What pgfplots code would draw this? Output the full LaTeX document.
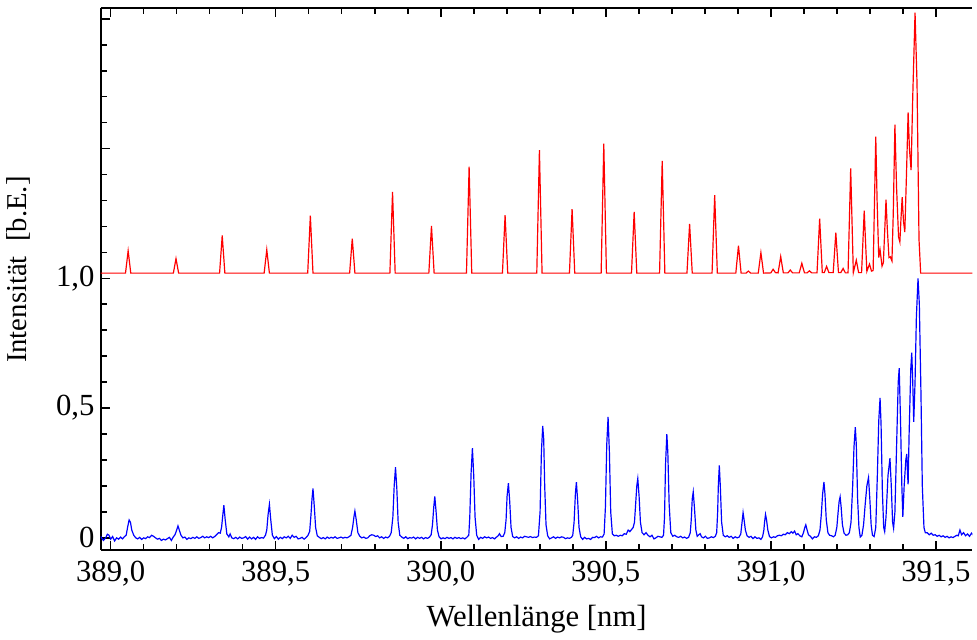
\documentclass[border=0pt]{standalone}
\usepackage{fontspec}
\setmainfont{Liberation Serif}
\usepackage{pgfplots}
\pgfplotsset{compat=1.18}

\begin{document}
\begin{tikzpicture}
\begin{axis}[
    scale only axis,
    width=440pt, height=273.5pt,
    xmin=388.97, xmax=391.611,
    ymin=-0.046, ymax=2.042,
    axis x line=box, axis y line=left,
    axis line style={-, line width=1pt},
    tick align=inside,
    xtick={389,389.5,390,390.5,391,391.5},
    xticklabels={{389,0},{389,5},{390,0},{390,5},{391,0},{391,5}},
    minor x tick num=4,
    ytick={0,0.5,1,1.5,2},
    yticklabels={0,{0,5},{1,0},{},{}},
    minor y tick num=4,
    major tick length=4.5pt, minor tick length=3pt,
    tick style={black, line width=0.8pt},
    tick label style={font=\fontsize{15.5}{18}\selectfont},
    xticklabel style={anchor=base, yshift=-16pt},
    yticklabel style={inner sep=0pt, xshift=-3pt},
    xlabel={Wellenlänge [nm]},
    ylabel={Intensität\hspace{0.5em}[b.E.]},
    xlabel style={font=\fontsize{15.5}{18}\selectfont, at={(axis description cs:0.5,-0.1408)}, anchor=base},
    ylabel style={font=\fontsize{14.5}{17}\selectfont, at={(axis description cs:-0.0727,0.517)}, anchor=south, rotate=0},
]

% Messung
\addplot[blue, line width=0.6pt] coordinates {
(388.970,0.005)(388.978,-0.010)(388.985,0.000)(388.990,0.014)(388.995,0.010)(389.000,-0.005)(389.006,0.005)(389.012,-0.012)(389.018,0.000)(389.024,-0.005)(389.030,0.003)(389.036,-0.004)(389.042,0.005)
(389.047,0.010)(389.052,0.045)(389.056,0.069)(389.060,0.060)(389.064,0.030)(389.070,0.010)
(389.076,0.000)(389.082,-0.004)(389.088,0.002)(389.094,-0.006)(389.100,0.000)(389.106,-0.003)(389.112,0.004)(389.118,0.001)(389.124,0.010)(389.130,0.006)(389.136,0.000)(389.142,-0.005)(389.148,-0.002)(389.154,-0.010)(389.160,-0.005)(389.166,-0.008)(389.172,-0.003)(389.178,0.002)(389.184,-0.010)(389.190,0.004)
(389.195,0.012)(389.200,0.030)(389.204,0.046)(389.208,0.030)(389.213,0.010)
(389.219,0.000)(389.225,0.003)(389.231,-0.006)(389.237,0.000)(389.243,-0.003)(389.249,0.002)(389.255,-0.002)(389.261,0.004)(389.267,-0.002)(389.273,0.001)(389.279,0.006)(389.285,0.000)(389.291,0.004)(389.297,0.001)(389.303,0.006)(389.309,0.000)(389.315,0.005)(389.321,0.012)(389.327,0.020)(389.332,0.018)
(389.336,0.040)(389.340,0.090)(389.343,0.126)(389.347,0.070)(389.352,0.015)
(389.358,0.004)(389.362,0.015)(389.367,0.000)(389.373,-0.003)(389.379,0.002)(389.385,-0.004)(389.391,0.003)(389.397,-0.002)(389.403,0.000)(389.409,0.005)(389.415,-0.005)(389.421,0.003)(389.427,-0.004)(389.433,0.002)(389.439,-0.006)(389.445,0.004)(389.451,-0.002)(389.457,0.001)(389.463,-0.001)(389.469,0.010)
(389.473,0.030)(389.477,0.090)(389.481,0.129)(389.485,0.070)(389.490,0.010)
(389.496,-0.003)(389.502,0.005)(389.508,-0.005)(389.514,0.002)(389.520,-0.003)(389.526,0.004)(389.532,0.000)(389.538,0.006)(389.544,-0.002)(389.550,0.010)(389.556,0.002)(389.562,0.006)(389.568,-0.004)(389.574,-0.002)(389.580,0.002)(389.586,-0.005)(389.592,0.001)(389.598,0.010)(389.603,0.025)
(389.607,0.090)(389.610,0.150)(389.613,0.190)(389.617,0.120)(389.621,0.040)(389.626,0.008)
(389.632,0.002)(389.638,-0.003)(389.644,0.001)(389.650,-0.004)(389.656,0.003)(389.662,-0.002)(389.668,0.002)(389.674,-0.001)(389.680,0.004)(389.686,-0.002)(389.692,0.000)(389.698,0.003)(389.704,-0.001)(389.710,0.002)(389.716,0.000)(389.722,0.004)(389.728,0.010)
(389.733,0.040)(389.737,0.080)(389.740,0.103)(389.744,0.070)(389.749,0.020)
(389.755,0.006)(389.761,0.000)(389.767,0.003)(389.773,-0.002)(389.779,0.000)(389.785,0.008)(389.791,0.012)(389.797,0.010)(389.803,0.005)(389.809,0.008)(389.815,0.000)(389.821,0.004)(389.827,-0.002)(389.833,0.003)(389.839,0.000)(389.845,0.006)(389.850,0.020)
(389.855,0.080)(389.859,0.200)(389.863,0.272)(389.867,0.190)(389.871,0.060)(389.876,0.010)
(389.882,0.003)(389.888,-0.002)(389.894,0.004)(389.900,-0.003)(389.906,0.001)(389.912,-0.001)(389.918,0.003)(389.924,-0.004)(389.930,0.002)(389.936,-0.002)(389.942,0.002)(389.948,-0.004)(389.954,0.001)(389.960,-0.002)(389.966,0.003)(389.971,0.012)
(389.975,0.050)(389.979,0.120)(389.982,0.160)(389.986,0.100)(389.990,0.030)(389.995,0.004)
(390.001,-0.004)(390.007,0.000)(390.013,-0.003)(390.019,0.002)(390.025,-0.002)(390.031,0.001)(390.037,-0.004)(390.043,0.002)(390.049,-0.002)(390.055,0.001)(390.061,-0.003)(390.067,0.000)(390.073,-0.004)(390.079,0.002)(390.085,0.010)
(390.088,0.080)(390.092,0.250)(390.096,0.346)(390.100,0.240)(390.104,0.080)(390.109,0.010)
(390.115,-0.006)(390.121,0.002)(390.127,-0.002)(390.133,0.004)(390.139,0.000)(390.145,0.003)(390.151,-0.002)(390.157,0.001)(390.163,-0.004)(390.169,0.003)(390.174,0.008)(390.178,0.016)(390.183,0.005)(390.189,0.006)(390.194,0.020)
(390.198,0.070)(390.201,0.160)(390.205,0.211)(390.209,0.140)(390.213,0.040)(390.218,0.005)
(390.224,0.000)(390.230,0.004)(390.236,-0.002)(390.242,0.003)(390.248,0.000)(390.254,0.006)(390.260,0.004)(390.266,0.002)(390.272,0.005)(390.278,0.001)(390.284,0.003)(390.290,0.002)(390.296,0.008)
(390.301,0.100)(390.305,0.330)(390.309,0.431)(390.312,0.380)(390.315,0.200)(390.319,0.050)(390.324,0.008)
(390.330,-0.004)(390.336,0.000)(390.342,0.004)(390.348,-0.002)(390.354,0.003)(390.360,0.000)(390.366,0.004)(390.372,0.002)(390.378,-0.003)(390.384,0.000)(390.390,-0.002)(390.396,0.002)(390.400,0.010)
(390.404,0.060)(390.408,0.170)(390.411,0.215)(390.415,0.140)(390.419,0.040)(390.424,0.004)
(390.430,-0.006)(390.436,0.002)(390.442,-0.004)(390.448,-0.002)(390.454,-0.006)(390.460,0.002)(390.466,0.001)(390.472,0.006)(390.478,0.000)(390.484,0.004)(390.490,0.003)(390.495,0.015)
(390.499,0.120)(390.503,0.360)(390.507,0.466)(390.511,0.330)(390.515,0.100)(390.520,0.015)
(390.526,0.008)(390.532,0.010)(390.538,0.006)(390.544,0.010)(390.550,0.008)(390.556,0.016)(390.562,0.014)(390.568,0.030)(390.573,0.024)(390.578,0.032)(390.583,0.040)(390.587,0.060)
(390.591,0.140)(390.594,0.200)(390.597,0.228)(390.601,0.160)(390.605,0.060)(390.610,0.020)
(390.616,0.012)(390.622,0.020)(390.628,0.010)(390.634,0.004)(390.640,0.010)(390.646,-0.004)(390.652,0.000)(390.658,0.006)(390.664,0.004)(390.670,0.002)(390.675,0.010)
(390.678,0.080)(390.681,0.280)(390.685,0.400)(390.688,0.330)(390.692,0.130)(390.697,0.020)
(390.703,0.006)(390.709,0.010)(390.715,0.004)(390.721,0.002)(390.727,0.006)(390.733,0.000)(390.739,0.003)(390.745,-0.002)(390.751,0.002)(390.756,0.020)
(390.759,0.070)(390.762,0.150)(390.765,0.177)(390.769,0.110)(390.773,0.030)(390.777,0.006)
(390.782,0.012)(390.786,0.016)(390.790,0.004)(390.796,0.000)(390.802,0.006)(390.808,-0.002)(390.814,0.000)(390.820,0.004)(390.826,0.001)(390.832,0.006)(390.836,0.020)
(390.839,0.100)(390.841,0.200)(390.844,0.279)(390.847,0.200)(390.851,0.060)(390.856,0.010)
(390.862,0.004)(390.868,0.008)(390.874,0.002)(390.880,0.006)(390.886,-0.002)(390.892,0.004)(390.898,0.000)(390.904,0.003)(390.909,0.015)
(390.912,0.050)(390.916,0.097)(390.919,0.070)(390.923,0.030)(390.928,0.008)
(390.934,0.002)(390.940,0.006)(390.946,-0.003)(390.952,0.004)(390.958,-0.002)(390.964,0.000)(390.970,-0.006)(390.975,0.004)(390.979,0.030)
(390.981,0.060)(390.984,0.090)(390.987,0.070)(390.991,0.030)(390.996,0.005)
(391.002,0.000)(391.008,0.004)(391.014,0.002)(391.020,0.008)(391.026,0.010)(391.032,0.008)(391.038,0.014)(391.044,0.012)(391.050,0.020)(391.056,0.016)(391.062,0.024)(391.067,0.018)(391.072,0.026)(391.077,0.012)(391.082,0.016)(391.088,0.008)(391.094,0.004)(391.099,0.020)
(391.103,0.040)(391.106,0.050)(391.109,0.035)(391.114,0.012)
(391.120,0.006)(391.126,-0.004)(391.132,0.004)(391.138,0.002)(391.144,0.008)(391.149,0.030)
(391.153,0.090)(391.157,0.170)(391.161,0.215)(391.164,0.170)(391.168,0.070)(391.173,0.020)(391.178,0.010)(391.184,0.008)(391.190,0.004)(391.195,0.010)(391.200,0.040)
(391.204,0.100)(391.207,0.140)(391.210,0.158)(391.213,0.120)(391.217,0.050)(391.222,0.018)(391.228,0.010)(391.233,0.012)(391.238,0.020)(391.243,0.060)
(391.248,0.200)(391.252,0.350)(391.256,0.427)(391.259,0.360)(391.263,0.150)(391.267,0.040)(391.271,0.003)(391.276,0.010)(391.281,0.050)
(391.286,0.130)(391.291,0.200)(391.296,0.232)(391.300,0.150)(391.304,0.050)(391.308,0.010)(391.313,0.005)(391.318,0.040)
(391.323,0.250)(391.327,0.450)(391.331,0.539)(391.334,0.440)(391.338,0.180)(391.342,0.040)(391.345,0.024)(391.349,0.080)
(391.355,0.240)(391.361,0.307)(391.365,0.200)(391.369,0.060)(391.372,0.037)(391.376,0.100)
(391.382,0.400)(391.386,0.600)(391.389,0.654)(391.393,0.450)(391.397,0.200)(391.400,0.081)(391.404,0.200)
(391.409,0.300)(391.412,0.323)(391.414,0.250)(391.416,0.206)(391.419,0.400)
(391.424,0.650)(391.427,0.714)(391.430,0.600)(391.433,0.447)(391.437,0.600)
(391.441,0.850)(391.446,1.000)(391.450,0.900)(391.455,0.550)(391.459,0.200)(391.464,0.040)(391.468,0.020)
(391.474,0.020)(391.480,0.012)(391.486,0.018)(391.492,0.010)(391.498,0.012)(391.504,0.006)(391.510,0.010)(391.516,0.004)(391.522,0.008)(391.528,0.002)(391.534,0.006)(391.540,0.000)(391.546,0.004)(391.552,0.001)(391.558,0.006)(391.564,0.010)(391.568,0.008)(391.573,0.030)(391.578,0.012)(391.584,0.020)(391.590,0.008)(391.596,0.015)(391.602,0.006)(391.608,0.018)(391.614,0.008)(391.620,0.012)
};

% Simulation (um 1,02 versetzt)
\addplot[red, line width=0.6pt] coordinates {
(388.970,1.02)
(389.045,1.02)(389.049,1.063)(389.053,1.106)(389.057,1.063)(389.061,1.02)
(389.190,1.02)(389.194,1.048)(389.198,1.076)(389.202,1.048)(389.206,1.02)
(389.330,1.02)(389.334,1.093)(389.338,1.165)(389.342,1.093)(389.346,1.02)
(389.465,1.02)(389.469,1.065)(389.473,1.110)(389.477,1.065)(389.481,1.02)
(389.597,1.02)(389.601,1.131)(389.605,1.242)(389.609,1.131)(389.613,1.02)
(389.724,1.02)(389.728,1.087)(389.732,1.153)(389.736,1.087)(389.740,1.02)
(389.846,1.02)(389.850,1.177)(389.854,1.333)(389.858,1.177)(389.862,1.02)
(389.964,1.02)(389.968,1.111)(389.972,1.202)(389.976,1.111)(389.980,1.02)
(390.078,1.02)(390.082,1.225)(390.086,1.430)(390.090,1.225)(390.094,1.02)
(390.187,1.02)(390.191,1.132)(390.195,1.243)(390.199,1.132)(390.203,1.02)
(390.291,1.02)(390.295,1.257)(390.299,1.494)(390.303,1.257)(390.307,1.02)
(390.390,1.02)(390.394,1.144)(390.398,1.267)(390.402,1.144)(390.406,1.02)
(390.486,1.02)(390.490,1.270)(390.494,1.519)(390.498,1.270)(390.502,1.02)
(390.578,1.02)(390.582,1.138)(390.586,1.256)(390.590,1.138)(390.594,1.02)
(390.663,1.02)(390.667,1.237)(390.671,1.453)(390.675,1.237)(390.679,1.02)
(390.746,1.02)(390.750,1.115)(390.754,1.210)(390.758,1.115)(390.762,1.02)
(390.822,1.02)(390.826,1.171)(390.830,1.321)(390.834,1.171)(390.838,1.02)
(390.894,1.02)(390.898,1.073)(390.902,1.126)(390.906,1.073)(390.910,1.02)
(390.925,1.02)(390.932,1.028)(390.939,1.02)
(390.962,1.02)(390.966,1.060)(390.970,1.099)(390.974,1.060)(390.978,1.02)
(391.000,1.021)(391.007,1.035)(391.014,1.022)
(391.022,1.021)(391.026,1.052)(391.030,1.084)(391.034,1.052)(391.038,1.021)
(391.052,1.021)(391.059,1.032)(391.066,1.021)
(391.086,1.021)(391.090,1.039)(391.094,1.058)(391.098,1.039)(391.102,1.021)
(391.110,1.021)(391.117,1.029)(391.124,1.021)
(391.140,1.021)(391.144,1.125)(391.148,1.230)(391.152,1.125)(391.156,1.022)
(391.162,1.022)(391.169,1.046)(391.176,1.022)
(391.189,1.022)(391.193,1.098)(391.197,1.176)(391.201,1.098)(391.205,1.022)
(391.212,1.022)(391.219,1.038)(391.226,1.021)
(391.234,1.021)(391.238,1.222)(391.242,1.424)(391.246,1.222)(391.250,1.022)
(391.259,1.070)(391.266,1.022)
(391.275,1.022)(391.279,1.140)(391.283,1.261)(391.287,1.140)(391.291,1.027)
(391.299,1.055)(391.305,1.028)
(391.310,1.030)(391.314,1.288)(391.318,1.546)(391.322,1.300)(391.327,1.080)(391.331,1.110)(391.337,1.047)
(391.341,1.060)(391.345,1.180)(391.349,1.303)(391.353,1.190)(391.358,1.080)(391.362,1.083)(391.367,1.067)
(391.371,1.250)(391.376,1.592)(391.381,1.350)(391.387,1.160)(391.391,1.140)
(391.394,1.220)(391.398,1.313)(391.402,1.220)(391.406,1.178)
(391.411,1.400)(391.416,1.639)(391.420,1.500)(391.425,1.417)
(391.430,1.700)(391.437,2.024)(391.443,1.750)(391.449,1.150)(391.454,1.020)
(391.620,1.020)
};

\end{axis}
\path (current axis.south west) ++(-48.5pt,-44pt);
\path (current axis.north west) ++(0,4pt);
\end{tikzpicture}
\end{document}
